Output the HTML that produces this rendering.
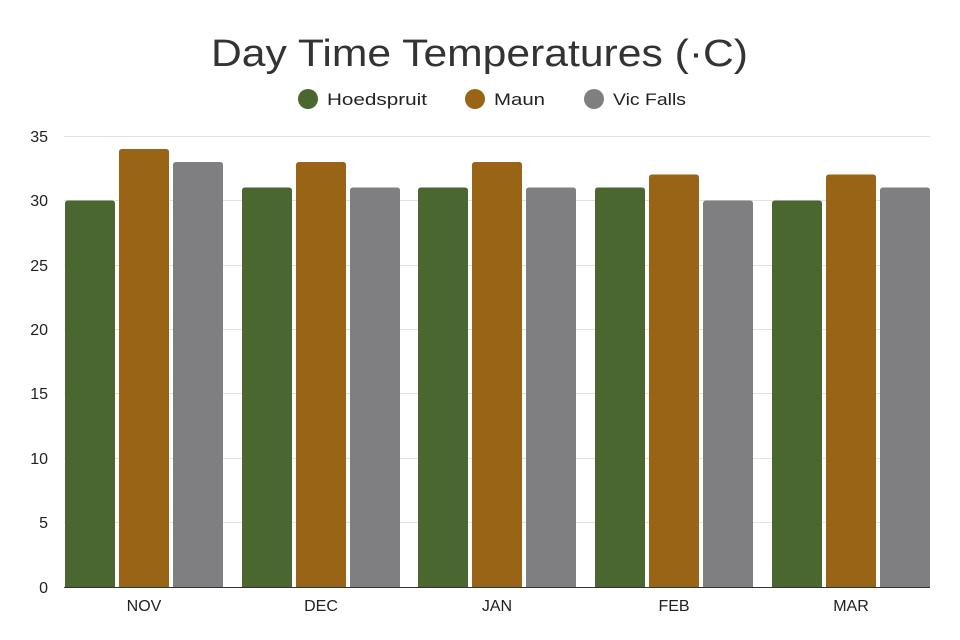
<!DOCTYPE html>
<html><head><meta charset="utf-8"><style>html,body{margin:0;padding:0;background:#fff;}svg{display:block}</style></head>
<body>
<svg width="960" height="640" viewBox="0 0 960 640" xmlns="http://www.w3.org/2000/svg" font-family="Liberation Sans, sans-serif">
<rect width="960" height="640" fill="#fff"/>
<text x="211" y="66" font-size="38" fill="#333" textLength="537" lengthAdjust="spacingAndGlyphs">Day Time Temperatures (·C)</text>
<circle cx="308" cy="99" r="10" fill="#4a6730"/>
<text x="327" y="105" font-size="17" fill="#222" textLength="100" lengthAdjust="spacingAndGlyphs">Hoedspruit</text>
<circle cx="475" cy="99" r="10" fill="#9a6416"/>
<text x="494" y="105" font-size="17" fill="#222" textLength="51" lengthAdjust="spacingAndGlyphs">Maun</text>
<circle cx="594" cy="99" r="10" fill="#7f7f82"/>
<text x="613" y="105" font-size="17" fill="#222" textLength="73" lengthAdjust="spacingAndGlyphs">Vic Falls</text>
<g stroke="#e2e2e2" stroke-width="1">
<line x1="64" x2="930" y1="136.5" y2="136.5"/>
<line x1="64" x2="930" y1="200.5" y2="200.5"/>
<line x1="64" x2="930" y1="265.5" y2="265.5"/>
<line x1="64" x2="930" y1="329.5" y2="329.5"/>
<line x1="64" x2="930" y1="393.5" y2="393.5"/>
<line x1="64" x2="930" y1="458.5" y2="458.5"/>
<line x1="64" x2="930" y1="522.5" y2="522.5"/>
</g>
<g font-size="16" fill="#222" text-anchor="end">
<text x="48" y="142">35</text><text x="48" y="206">30</text><text x="48" y="271">25</text>
<text x="48" y="335">20</text><text x="48" y="399">15</text><text x="48" y="464">10</text>
<text x="48" y="528">5</text><text x="48" y="593">0</text>
</g>
<g fill="#4a6730">
<path d="M65 203.5q0 -3 3 -3h44q3 0 3 3V587H65Z"/>
<path d="M242 190.5q0 -3 3 -3h44q3 0 3 3V587H242Z"/>
<path d="M418 190.5q0 -3 3 -3h44q3 0 3 3V587H418Z"/>
<path d="M595 190.5q0 -3 3 -3h44q3 0 3 3V587H595Z"/>
<path d="M772 203.5q0 -3 3 -3h44q3 0 3 3V587H772Z"/>
</g>
<g fill="#9a6416">
<path d="M119 152q0 -3 3 -3h44q3 0 3 3V587H119Z"/>
<path d="M296 165q0 -3 3 -3h44q3 0 3 3V587H296Z"/>
<path d="M472 165q0 -3 3 -3h44q3 0 3 3V587H472Z"/>
<path d="M649 177.5q0 -3 3 -3h44q3 0 3 3V587H649Z"/>
<path d="M826 177.5q0 -3 3 -3h44q3 0 3 3V587H826Z"/>
</g>
<g fill="#7f7f82">
<path d="M173 165q0 -3 3 -3h44q3 0 3 3V587H173Z"/>
<path d="M350 190.5q0 -3 3 -3h44q3 0 3 3V587H350Z"/>
<path d="M526 190.5q0 -3 3 -3h44q3 0 3 3V587H526Z"/>
<path d="M703 203.5q0 -3 3 -3h44q3 0 3 3V587H703Z"/>
<path d="M880 190.5q0 -3 3 -3h44q3 0 3 3V587H880Z"/>
</g>
<line x1="64" x2="930" y1="587.5" y2="587.5" stroke="#333" stroke-width="1"/>
<g font-size="16" fill="#222" text-anchor="middle">
<text x="144" y="611">NOV</text><text x="321" y="611">DEC</text><text x="497" y="611">JAN</text>
<text x="674" y="611">FEB</text><text x="851" y="611">MAR</text>
</g>
</svg>
</body></html>
